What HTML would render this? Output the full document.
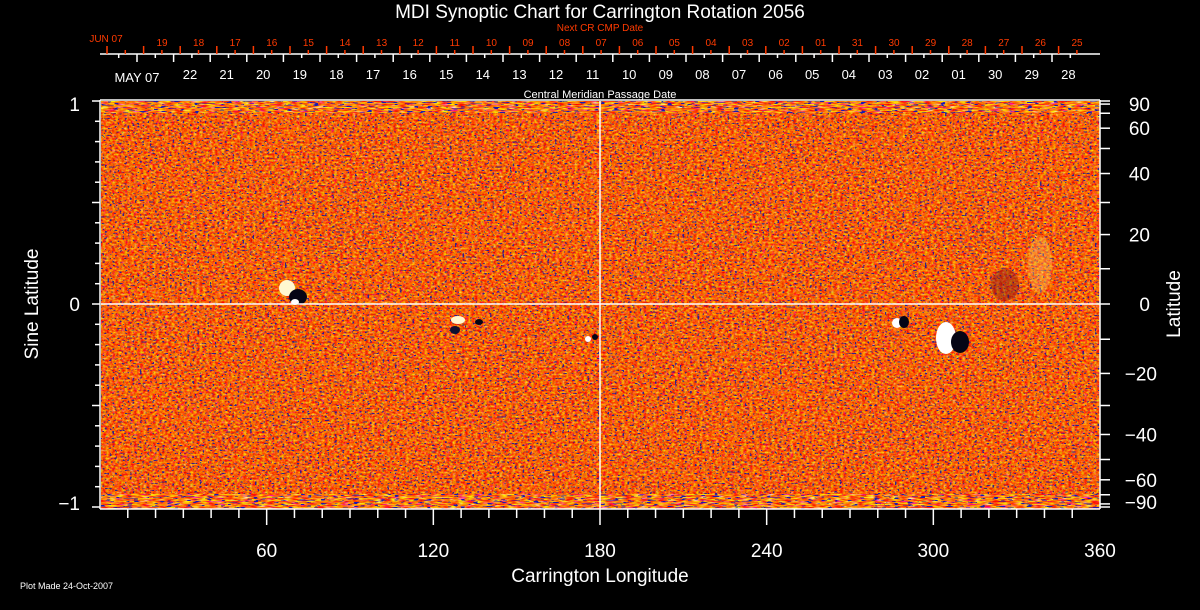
<!DOCTYPE html>
<html><head><meta charset="utf-8">
<style>
html,body{margin:0;padding:0;background:#000;width:1200px;height:610px;overflow:hidden}
svg{display:block}
text{font-family:"Liberation Sans","DejaVu Sans",sans-serif}
</style></head>
<body>
<svg id="s" width="1200" height="610" viewBox="0 0 1200 610" xmlns="http://www.w3.org/2000/svg">
<defs>
<clipPath id="cp"><rect x="101" y="101" width="999" height="408"/></clipPath>
<filter id="base" x="0" y="0" width="1" height="1" color-interpolation-filters="sRGB">
 <feTurbulence type="fractalNoise" baseFrequency="0.32 0.5" numOctaves="2" seed="3" result="n"/>
 <feColorMatrix in="n" type="matrix" values="0 0.4 0 0 0.78  1.3 0 0 0 -0.26  0 0 1.4 0 -0.75  0 0 0 0 1"/>
</filter>
<filter id="blue" x="0" y="0" width="1" height="1" color-interpolation-filters="sRGB">
 <feTurbulence type="fractalNoise" baseFrequency="0.4 0.6" numOctaves="1" seed="11" result="n"/>
 <feColorMatrix in="n" type="matrix" values="0 0 0 0 0.1  0 0 0 0 0.1  0 0 0 0 0.6  3 0 0 0 -1"/>
 <feComponentTransfer><feFuncA type="discrete" tableValues="0 0 0 0 0 0 0 0 0 0 0 0 0 0 0 0 0 0 0 0 0 0 0 0 0 0 0 0 0 0 0 0 0 0.9"/></feComponentTransfer>
</filter>
<filter id="pole" x="0" y="0" width="1" height="1" color-interpolation-filters="sRGB">
 <feTurbulence type="fractalNoise" baseFrequency="0.12 0.7" numOctaves="2" seed="5" result="n"/>
 <feColorMatrix in="n" type="matrix" values="0 0 0 0 1  2.2 0 0 0 -0.6  0 0 3 0 -1.6  0 0 0 0 1"/>
</filter>
<filter id="poleb" x="0" y="0" width="1" height="1" color-interpolation-filters="sRGB">
 <feTurbulence type="fractalNoise" baseFrequency="0.15 0.8" numOctaves="1" seed="21" result="n"/>
 <feColorMatrix in="n" type="matrix" values="0 0 0 0 0.1  0 0 0 0 0.1  0 0 0 0 0.7  3 0 0 0 -1"/>
 <feComponentTransfer><feFuncA type="discrete" tableValues="0 0 0 0 0 0 0 0 0 0 0 0 0 0 0 0 0.8 1"/></feComponentTransfer>
</filter>
</defs>
<g clip-path="url(#cp)">
<rect x="101" y="101" width="999" height="408" fill="#000" filter="url(#base)"/>
<rect x="101" y="101" width="999" height="408" fill="#000" filter="url(#blue)"/>
<rect x="101" y="101" width="999" height="12" fill="#000" filter="url(#pole)" opacity="0.85"/>
<rect x="101" y="101" width="999" height="12" fill="#000" filter="url(#poleb)"/>
<rect x="101" y="494" width="999" height="15" fill="#000" filter="url(#pole)" opacity="0.85"/>
<rect x="101" y="494" width="999" height="15" fill="#000" filter="url(#poleb)"/>
<ellipse cx="287" cy="288" rx="8" ry="8" fill="#fff8d0"/>
<ellipse cx="298" cy="297" rx="9" ry="8" fill="#050515"/>
<ellipse cx="295" cy="302" rx="4" ry="3" fill="#fff"/>
<ellipse cx="458" cy="320" rx="7" ry="4" fill="#fff8d0"/>
<ellipse cx="455" cy="330" rx="5" ry="4" fill="#101030"/>
<ellipse cx="479" cy="322" rx="4" ry="3" fill="#050515"/>
<ellipse cx="588" cy="339" rx="3" ry="3" fill="#fff"/>
<ellipse cx="595" cy="337" rx="3" ry="3" fill="#050515"/>
<ellipse cx="897" cy="323" rx="5" ry="5" fill="#fff"/>
<ellipse cx="904" cy="322" rx="5" ry="6" fill="#050515"/>
<ellipse cx="946" cy="338" rx="10" ry="16" fill="#fff"/>
<ellipse cx="960" cy="342" rx="9" ry="11" fill="#050515"/>
<ellipse cx="1005" cy="285" rx="14" ry="16" fill="#801818" opacity="0.45"/>
<ellipse cx="1040" cy="265" rx="12" ry="28" fill="#f8c860" opacity="0.35"/>
</g>
<line x1="600" y1="101" x2="600" y2="509" stroke="#fff" stroke-width="1.5"/>
<line x1="101" y1="304" x2="1100" y2="304" stroke="#fff" stroke-width="1.5"/>
<g id="ax" stroke="#fff" stroke-width="1.5" fill="none"></g>
<g id="rt" stroke="#ff3a00" stroke-width="1.5" fill="none"></g>
<g id="lab" fill="#fff" font-size="15"></g>
<g id="rlab" fill="#ff3a00" font-size="11"></g>
<text x="600" y="18" fill="#fff" font-size="19" text-anchor="middle">MDI Synoptic Chart for Carrington Rotation 2056</text>
<text x="600" y="31" fill="#ff3a00" font-size="10" text-anchor="middle">Next CR CMP Date</text>
<text x="600" y="98" fill="#fff" font-size="11" text-anchor="middle">Central Meridian Passage Date</text>
<text x="106" y="42" fill="#ff3a00" font-size="10" text-anchor="middle">JUN 07</text>
<text x="137" y="82" fill="#fff" font-size="13" text-anchor="middle">MAY 07</text>
<text x="600" y="582" fill="#fff" font-size="19" text-anchor="middle">Carrington Longitude</text>
<text x="20" y="589" fill="#fff" font-size="9">Plot Made 24-Oct-2007</text>
<text transform="translate(38,304) rotate(-90)" fill="#fff" font-size="19" text-anchor="middle">Sine Latitude</text>
<text transform="translate(1180,304) rotate(-90)" fill="#fff" font-size="19" text-anchor="middle">Latitude</text>
</svg>
<script>
var NS="http://www.w3.org/2000/svg";
function L(g,x1,y1,x2,y2){var e=document.createElementNS(NS,"line");e.setAttribute("x1",x1);e.setAttribute("y1",y1);e.setAttribute("x2",x2);e.setAttribute("y2",y2);document.getElementById(g).appendChild(e);}
function T(g,x,y,s,anc,fs){var e=document.createElementNS(NS,"text");e.setAttribute("x",x);e.setAttribute("y",y);e.setAttribute("text-anchor",anc||"middle");if(fs)e.setAttribute("font-size",fs);e.textContent=s;document.getElementById(g).appendChild(e);}
L("ax",100,100,1100,100);L("ax",100,509,1100,509);L("ax",100,100,100,509);L("ax",1100,100,1100,509);
for(var d=10;d<360;d+=10){var x=100+d*1000/360;L("ax",x,509,x,d%60==0?525:518);}
[60,120,180,240,300,360].forEach(function(d){T("lab",100+d*1000/360,557,String(d),"middle",19);});
for(var i=-10;i<=10;i++){var y=304-i*20.3;L("ax",i%5==0?92:95,y,100,y);}
T("lab",80,111,"1","end",19);T("lab",80,311,"0","end",19);T("lab",80,510,"\u22121","end",19);
for(var a=-90;a<=90;a+=10){var y=304-203*Math.sin(a*Math.PI/180);L("ax",1100,y,1110,y);}
[[90,"90"],[60,"60"],[40,"40"],[20,"20"],[0,"0"],[-20,"\u221220"],[-40,"\u221240"],[-60,"\u221260"],[-90,"\u221290"]].forEach(function(p){var y=304-203*Math.sin(p[0]*Math.PI/180);if(p[0]==90)y=104;if(p[0]==-90)y=502;T("lab",p[0]<0?1157:1150,y+7,p[1],"end",19);});
L("ax",100,54,1100,54);
var sp=36.6;
for(var k=0;k<26;k++){var x=137+k*sp;if(x<1100)L("ax",x,54,x,62);var m=x+sp/2;if(m<1100)L("ax",m,54,m,58);}
L("ax",118.7,54,118.7,58);
var wl=["22","21","20","19","18","17","16","15","14","13","12","11","10","09","08","07","06","05","04","03","02","01","30","29","28"];
wl.forEach(function(s,k){T("lab",190+k*sp,79,s,"middle",13);});
for(var k=0;k<27;k++){var x=107+k*sp;if(x<1100)L("rt",x,46,x,54);var m=x+sp/2;if(m<1100)L("rt",m,50,m,54);}
var rl=["19","18","17","16","15","14","13","12","11","10","09","08","07","06","05","04","03","02","01","31","30","29","28","27","26","25"];
rl.forEach(function(s,k){T("rlab",162+k*sp,46,s,"middle",10);});
</script>
</body></html>
